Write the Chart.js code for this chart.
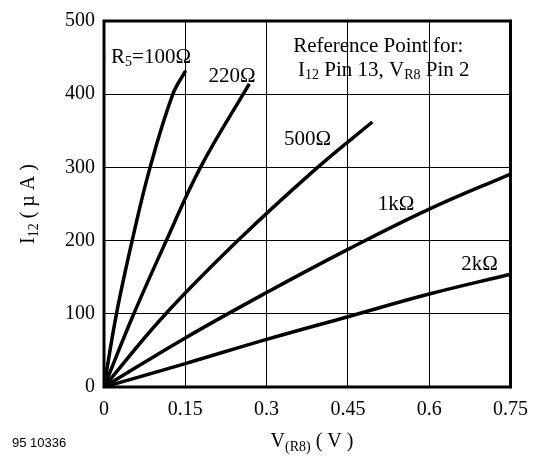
<!DOCTYPE html>
<html>
<head>
<meta charset="utf-8">
<script src="https://cdn.jsdelivr.net/npm/chart.js@4"></script>
<style>
  html, body { margin: 0; padding: 0; background: #fff; }
</style>
</head>
<body>
<canvas id="chart" width="539" height="461"></canvas>
<script>
// axis ticks
const xTickVals = [0, 0.15, 0.3, 0.45, 0.6, 0.75];
const xTickLabels = ['0', '0.15', '0.3', '0.45', '0.6', '0.75'];
const yTickVals = [0, 100, 200, 300, 400, 500];

// curves, V(R8) in volts and I12 in µA
const r100V = [0, 0.023, 0.052, 0.085, 0.127, 0.1505];
const r100I = [0, 100, 200, 300, 400, 432];
const r220V = [0, 0.055, 0.115, 0.178, 0.268];
const r220I = [0, 100, 200, 300, 414];
const r500V = [0, 0.109, 0.247, 0.394, 0.495];
const r500I = [0, 96, 200, 300, 362];
const r1kV = [0, 0.15, 0.3, 0.45, 0.6, 0.75];
const r1kI = [0, 67, 129, 188, 243, 291];
const r2kV = [0, 0.15, 0.3, 0.45, 0.6, 0.75];
const r2kI = [0, 32, 65, 96, 127, 154];

// curve labels (placed in data units)
const curveNames = ['100Ω', '220Ω', '500Ω', '1kΩ', '2kΩ'];
const labelV = [0.013, 0.193, 0.332, 0.505, 0.659];
const labelI = [450, 424, 338, 249, 167];

const serif = "'Liberation Serif', 'Times New Roman', serif";
const size = 20;
let textSize = 21;

const toPts = (xs, ys) => xs.map((v, i) => ({ x: v, y: ys[i] }));

function partsWidth(ctx, parts) {
  let w = 0;
  parts.forEach(p => {
    ctx.font = (p.sub ? 14 : textSize) + 'px ' + serif;
    w += ctx.measureText(p.t).width;
  });
  return w;
}

function drawParts(ctx, parts, x, y) {
  let cx = x;
  parts.forEach(p => {
    ctx.font = (p.sub ? 14 : textSize) + 'px ' + serif;
    ctx.fillText(p.t, cx, p.sub ? y + 5 : y);
    cx += ctx.measureText(p.t).width;
  });
}

const textPlugin = {
  id: 'texts',
  afterDraw(chart) {
    const { ctx, chartArea: a, scales: { x, y } } = chart;
    ctx.save();
    ctx.strokeStyle = '#000';
    ctx.lineWidth = 3;
    ctx.strokeRect(a.left, a.top, a.right - a.left, a.bottom - a.top);

    ctx.fillStyle = '#000';
    ctx.textBaseline = 'middle';
    ctx.textAlign = 'left';

    textSize = 21;
    curveNames.forEach((name, i) => {
      const parts = i === 0
        ? [{ t: 'R' }, { t: '5', sub: true }, { t: '=' + name }]
        : [{ t: name }];
      drawParts(ctx, parts, x.getPixelForValue(labelV[i]), y.getPixelForValue(labelI[i]));
    });

    drawParts(ctx, [{ t: 'Reference Point for:' }], x.getPixelForValue(0.349), y.getPixelForValue(465));
    drawParts(ctx, [{ t: 'I' }, { t: '12', sub: true }, { t: ' Pin 13, V' }, { t: 'R8', sub: true }, { t: ' Pin 2' }],
      x.getPixelForValue(0.358), y.getPixelForValue(432));

    textSize = 20;
    // x axis title
    const xt = [{ t: 'V' }, { t: '(R8)', sub: true }, { t: ' ( V )' }];
    drawParts(ctx, xt, 312 - partsWidth(ctx, xt) / 2, 442);

    // y axis title
    const yt = [{ t: 'I' }, { t: '12', sub: true }, { t: ' ( µ A )' }];
    ctx.save();
    ctx.translate(29, (a.top + a.bottom) / 2);
    ctx.rotate(-Math.PI / 2);
    drawParts(ctx, yt, -partsWidth(ctx, yt) / 2, 0);
    ctx.restore();

    // figure number
    ctx.font = "13px 'Liberation Sans', Arial, sans-serif";
    ctx.fillText('95 10336', 12, 443);
    ctx.restore();
  }
};

const lineStyle = { borderColor: '#000', borderWidth: 3.5, pointRadius: 0, showLine: true, fill: false, tension: 0.4 };

new Chart(document.getElementById('chart').getContext('2d'), {
  type: 'scatter',
  data: {
    datasets: [
      { label: '100Ω', data: toPts(r100V, r100I), ...lineStyle },
      { label: '220Ω', data: toPts(r220V, r220I), ...lineStyle },
      { label: '500Ω', data: toPts(r500V, r500I), ...lineStyle },
      { label: '1kΩ', data: toPts(r1kV, r1kI), ...lineStyle },
      { label: '2kΩ', data: toPts(r2kV, r2kI), ...lineStyle }
    ]
  },
  options: {
    responsive: false,
    animation: false,
    devicePixelRatio: 1,
    layout: { padding: { top: 16, right: 26, left: 0, bottom: 0 } },
    plugins: { legend: { display: false }, tooltip: { enabled: false } },
    scales: {
      x: {
        type: 'linear',
        min: 0,
        max: 0.75,
        afterBuildTicks: s => { s.ticks = xTickVals.map(v => ({ value: v })); },
        afterFit: s => { s.height = 74; },
        grid: { color: '#000', lineWidth: 1, drawTicks: false },
        border: { display: false },
        ticks: {
          color: '#000',
          padding: 11,
          maxRotation: 0,
          font: { family: serif, size: size },
          callback: (v, i) => xTickLabels[i]
        }
      },
      y: {
        type: 'linear',
        min: 0,
        max: 500,
        afterBuildTicks: s => { s.ticks = yTickVals.map(v => ({ value: v })); },
        afterFit: s => { s.width = 104; },
        grid: { color: '#000', lineWidth: 1, drawTicks: false },
        border: { display: false },
        ticks: {
          color: '#000',
          padding: 9,
          font: { family: serif, size: size }
        }
      }
    }
  },
  plugins: [textPlugin]
});
</script>
</body>
</html>
